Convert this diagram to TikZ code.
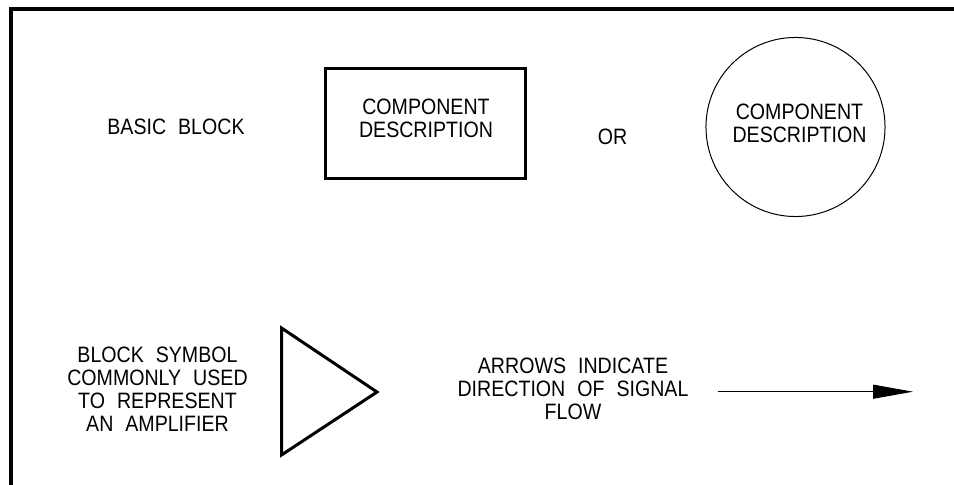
\documentclass[tikz,border=0pt]{standalone}
\usepackage{fontspec}
\setmainfont{Liberation Sans}[FakeStretch=0.88, WordSpace=2.2]
\usetikzlibrary{arrows.meta}

\begin{document}
\begin{tikzpicture}[x=0.75pt,y=0.75pt,yscale=-1,xscale=1,
  lbl/.style={inner sep=0pt, align=center, font=\fontsize{16.7}{17.25}\selectfont},
  heavy/.style={line width=2.25pt}]
\useasboundingbox (0,0) rectangle (954,485);

%Frame Lines [id:frame]
\draw [line width=3.6pt]   (11,485) -- (11,9) -- (954,9) ;

%Shape: Rectangle [id:blockbox]
\node [draw, heavy, minimum width=150.4pt, minimum height=82.5pt, inner sep=0pt] (blockbox) at (425.5,123.5) {};
%Shape: Circle [id:blockcirc]
\node [draw, circle, line width=0.75pt, minimum size=134.3pt, inner sep=0pt] (blockcirc) at (795.5,127) {};
%Shape: Triangle [id:amptri]
\draw [heavy, line join=miter]   (281.5,328) -- (377,392) -- (281.5,455) -- cycle ;

%Straight Lines [id:flowarrow]
\coordinate (flowstart) at (718,391.7);
\coordinate (flowend) at (913,391.7);
\draw [line width=0.9pt, -{Triangle[length=30pt,width=10.5pt]}]   (flowstart) -- (flowend) ;

% Text Node
\node [lbl] (basictext) at (176,126.5) {BASIC BLOCK};
% Text Node
\node [lbl] (boxtext) at (426,118) {COMPONENT\\DESCRIPTION};
% Text Node
\node [lbl] (ortext) at (612.5,137) {OR};
% Text Node
\node [lbl] (circtext) at (799.5,123.5) {COMPONENT\\DESCRIPTION};
% Text Node
\node [lbl] (amptext) at (157.5,389) {BLOCK SYMBOL\\COMMONLY USED\\TO REPRESENT\\AN AMPLIFIER};
% Text Node
\node [lbl] (flowtext) at (573,389) {ARROWS INDICATE\\DIRECTION OF SIGNAL\\FLOW};

\end{tikzpicture}
\end{document}
